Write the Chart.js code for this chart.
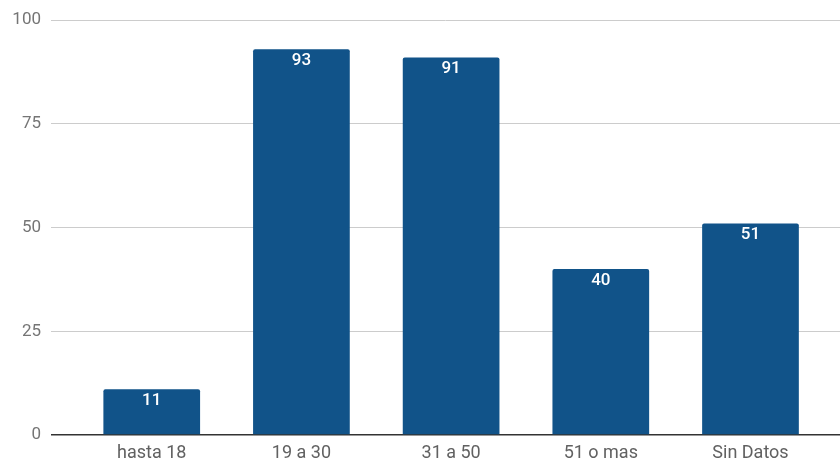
<!DOCTYPE html>
<html>
<head>
<meta charset="utf-8">
<script src="https://cdn.jsdelivr.net/npm/chart.js@4"></script>
<style>
  html, body { margin: 0; padding: 0; background: #fff; }
  #box { width: 840px; height: 461px; }
</style>
</head>
<body>
<div id="box"><canvas id="grafico"></canvas></div>
<script>
// Datos
const categorias = ["hasta 18", "19 a 30", "31 a 50", "51 o mas", "Sin Datos"];
const valores = [11, 93, 91, 40, 51];
const ticksY = [0, 25, 50, 75, 100];

const colorBarra = "#115389";

// Etiquetas blancas dentro de cada barra
const etiquetas = {
    id: "etiquetas",
    afterDatasetsDraw(chart){
        const ctx = chart.ctx;
        const meta = chart.getDatasetMeta(0);
        ctx.save();
        ctx.fillStyle = "#ffffff";
        ctx.font = "500 17px Roboto";
        ctx.textAlign = "center";
        ctx.textBaseline = "top";
        meta.data.forEach((barra, i) => {
            ctx.fillText(String(valores[i]), barra.x, barra.y + 3);
        });
        ctx.restore();
    }
};

const puntos = valores.map((v, i) => ({ x: i, y: v }));

const config = {
    type: "bar",
    data: {
        datasets: [{
            data: puntos,
            backgroundColor: colorBarra,
            borderRadius: 2,
            borderSkipped: "bottom",
            categoryPercentage: 1,
            barPercentage: 0.646
        }]
    },
    options: {
        responsive: true,
        maintainAspectRatio: false,
        animation: false,
        layout: { padding: { top: 20, right: 0, left: 0, bottom: 0 } },
        plugins: {
            legend: { display: false },
            tooltip: { enabled: false }
        },
        scales: {
            x: {
                type: "linear",
                offset: false,
                min: -0.673,
                max: 4.598,
                afterFit: (escala) => { escala.height = 26; },
                afterBuildTicks: (escala) => {
                    escala.ticks = categorias.map((c, i) => ({ value: i }));
                },
                grid: { display: false, drawTicks: false },
                border: { display: false },
                ticks: {
                    autoSkip: false,
                    maxRotation: 0,
                    padding: 8,
                    color: "#616161",
                    font: { family: "Roboto", size: 18 },
                    callback: (v) => categorias[v]
                }
            },
            y: {
                min: 0,
                max: 100,
                afterFit: (escala) => { escala.width = 51; },
                afterBuildTicks: (escala) => {
                    escala.ticks = ticksY.map(v => ({ value: v }));
                },
                grid: {
                    drawTicks: false,
                    color: (c) => c.tick && c.tick.value === 0 ? "#333333" : "#cccccc",
                    lineWidth: (c) => c.tick && c.tick.value === 0 ? 1.5 : 1
                },
                border: { display: false },
                ticks: {
                    padding: 10,
                    color: "#757575",
                    font: { family: "Roboto", size: 17 }
                }
            }
        }
    },
    plugins: [etiquetas]
};

new Chart(document.querySelector("#grafico"), config);
</script>
</body>
</html>
